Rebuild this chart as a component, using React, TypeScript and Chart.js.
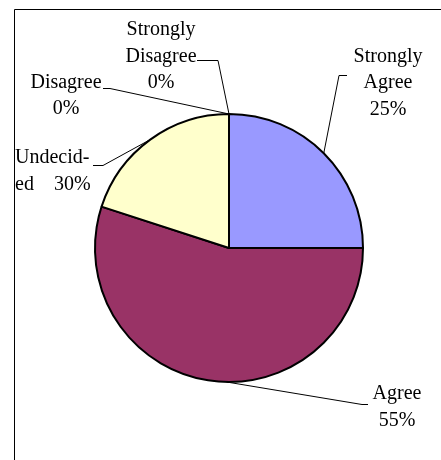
import React, { useEffect, useRef } from "react";
import { Chart, registerables } from "chart.js";

Chart.register(...registerables);

const categories = ["Strongly Agree", "Agree", "Undecided", "Disagree", "Strongly Disagree"];
const values = [25, 55, 20, 0, 0];
const labelTexts = [
  ["Strongly", "Agree", "25%"],
  ["Agree", "55%"],
  ["Undecid-", "ed    30%"],
  ["Disagree", "0%"],
  ["Strongly", "Disagree", "0%"],
];
const colors = ["#9999FF", "#993366", "#FFFFCC", "#CCFFFF", "#660066"];

// label layout relative to pie centre (px): text anchor, alignment, line height, leader elbow and end, anchor fraction along arc
const labelLayout = [
  { dx: 159, dy: -186.5, align: "center", lh: 26.5, elbow: [110, -173], end: [118, -173], frac: 0.5 },
  { dx: 168, dy: 151, align: "center", lh: 27, elbow: [133, 156], end: [139, 156], frac: 0.46 },
  { dx: -214, dy: -85, align: "left", lh: 27, elbow: [-126, -83], end: [-136, -83], frac: 0.5 },
  { dx: -163, dy: -160, align: "center", lh: 26, elbow: [-119, -160], end: [-126, -160], frac: 0.5 },
  { dx: -68, dy: -213, align: "center", lh: 26.5, elbow: [-11, -188], end: [-32, -188], frac: 0.5 },
];

const framePlugin = {
  id: "frame",
  beforeDraw(chart: any) {
    const ctx = chart.ctx;
    ctx.save();
    ctx.strokeStyle = "#000";
    ctx.lineWidth = 1;
    ctx.beginPath();
    ctx.moveTo(14.5, 600);
    ctx.lineTo(14.5, 9.5);
    ctx.lineTo(600, 9.5);
    ctx.stroke();
    ctx.restore();
  },
};

const labelPlugin = {
  id: "pieLabels",
  afterDraw(chart: any) {
    const ctx = chart.ctx;
    const meta = chart.getDatasetMeta(0);
    ctx.save();
    meta.data.forEach((arc: any, i: number) => {
      const p = arc.getProps(["x", "y", "startAngle", "endAngle", "outerRadius"], true);
      const L = labelLayout[i];
      const ang = p.startAngle + (p.endAngle - p.startAngle) * L.frac;
      const ax = p.x + Math.cos(ang) * p.outerRadius;
      const ay = p.y + Math.sin(ang) * p.outerRadius;
      ctx.strokeStyle = "#000";
      ctx.lineWidth = 1;
      ctx.beginPath();
      ctx.moveTo(ax, ay);
      ctx.lineTo(p.x + L.elbow[0], p.y + L.elbow[1] + 0.5);
      ctx.lineTo(p.x + L.end[0], p.y + L.end[1] + 0.5);
      ctx.stroke();
      ctx.fillStyle = "#000";
      ctx.font = '20px "Liberation Serif", "Times New Roman", serif';
      ctx.textAlign = L.align;
      ctx.textBaseline = "alphabetic";
      labelTexts[i].forEach((t, j) => {
        ctx.fillText(t, p.x + L.dx, p.y + L.dy + j * L.lh);
      });
    });
    ctx.restore();
  },
};

export default function App() {
  const ref = useRef<HTMLCanvasElement>(null);
  useEffect(() => {
    if (!ref.current) return;
    const chart = new Chart(ref.current, {
      type: "pie",
      data: {
        labels: categories,
        datasets: [
          {
            data: values,
            backgroundColor: colors,
            borderColor: "#000",
            borderWidth: 2,
            hoverOffset: 0,
          },
        ],
      },
      options: {
        animation: false,
        responsive: false,
        events: [],
        layout: { padding: { left: 94, right: 77, top: 113, bottom: 77 } },
        plugins: { legend: { display: false }, tooltip: { enabled: false } },
      },
      plugins: [framePlugin, labelPlugin],
    });
    return () => chart.destroy();
  }, []);
  return (
    <div style={{ position: "fixed", left: 0, top: 0, width: 441, height: 460, background: "#fff" }}>
      <canvas ref={ref} width={441} height={460} style={{ display: "block" }} />
    </div>
  );
}
